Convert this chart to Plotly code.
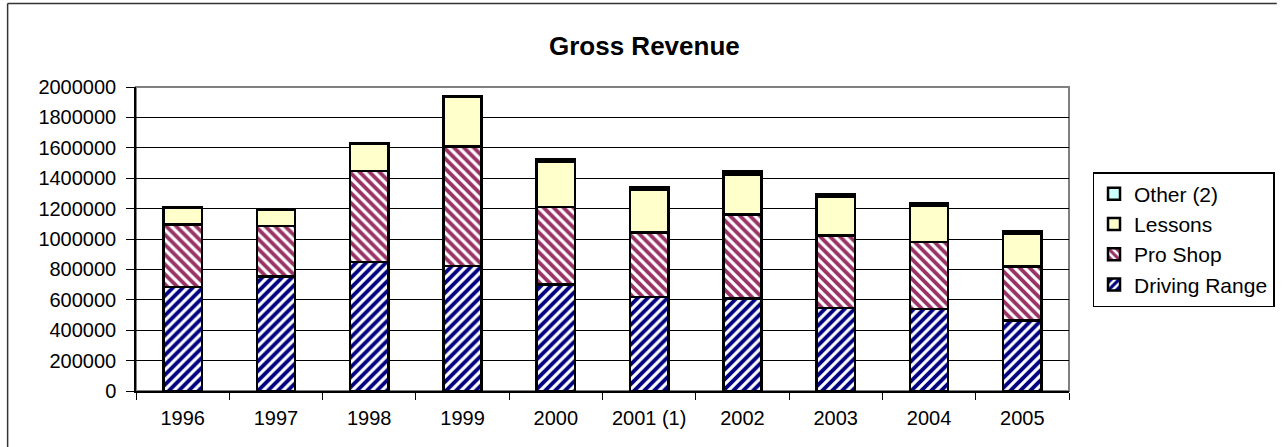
import plotly.graph_objects as go

years = ["1996", "1997", "1998", "1999", "2000", "2001 (1)", "2002", "2003", "2004", "2005"]
driving_range = [684000, 754000, 849000, 822000, 700000, 618000, 607000, 546000, 539000, 465000]
pro_shop = [412000, 331000, 598000, 788000, 511000, 424000, 553000, 478000, 441000, 355000]
lessons = [110000, 108000, 180000, 329000, 296000, 283000, 263000, 252000, 241000, 215000]
other = [0, 0, 0, 0, 17000, 13000, 20000, 18000, 16000, 15000]

FONT = "Arial, 'Liberation Sans', sans-serif"
W, H = 1287, 447
L, R, T, B = 136, 199, 87, 56
PW = W - L - R
PH = H - T - B

def px_x(px):
    return (px - L) / PW

def px_y(py):
    return (H - B - py) / PH

line = dict(color="black", width=2.5)
fig = go.Figure()
fig.add_trace(go.Bar(
    x=years, y=driving_range, name="Driving Range",
    marker=dict(color="#000080", line=line,
                pattern=dict(shape="/", fgcolor="#000080", bgcolor="white",
                             size=7, solidity=0.55, fgopacity=1)),
))
fig.add_trace(go.Bar(
    x=years, y=pro_shop, name="Pro Shop",
    marker=dict(color="#993366", line=line,
                pattern=dict(shape="\\", fgcolor="#993366", bgcolor="white",
                             size=7, solidity=0.55, fgopacity=1)),
))
fig.add_trace(go.Bar(
    x=years, y=lessons, name="Lessons",
    marker=dict(color="#FFFFCC", line=line),
))
fig.add_trace(go.Bar(
    x=years, y=other, name="Other (2)",
    marker=dict(color="#CCFFFF", line=line),
))

fig.update_layout(
    width=W, height=H,
    margin=dict(l=L, r=R, t=T, b=B, pad=0),
    barmode="stack", bargap=0.59,
    paper_bgcolor="white", plot_bgcolor="white",
    font=dict(family=FONT, size=20, color="black"),
    showlegend=True,
    legend=dict(
        x=px_x(1112), y=px_y(172), xanchor="left", yanchor="top",
        traceorder="reversed", bordercolor="black", borderwidth=1.5,
        bgcolor="white", font=dict(family=FONT, size=21, color="black"),
        itemclick=False, tracegroupgap=0,
    ),
    xaxis=dict(
        type="category", showline=True, linecolor="black", linewidth=1.5,
        ticks="outside", tickson="boundaries", ticklen=7, tickcolor="black",
        tickfont=dict(family=FONT, size=20), showgrid=False,
        ticklabelstandoff=8,
    ),
    yaxis=dict(
        range=[0, 2000000], dtick=200000, tickformat="d",
        showline=True, linecolor="black", linewidth=1.5,
        ticks="outside", ticklen=8, tickcolor="black",
        showgrid=True, gridcolor="black", gridwidth=1,
        tickfont=dict(family=FONT, size=20), zeroline=False,
        ticklabelstandoff=6,
    ),
    shapes=[
        dict(type="rect", xref="paper", yref="paper", x0=0, x1=1, y0=0, y1=1,
             line=dict(color="#808080", width=2), layer="below"),
        dict(type="line", xref="paper", yref="paper", x0=px_x(5), x1=px_x(5),
             y0=px_y(3.5), y1=px_y(460), line=dict(color="#333333", width=1.5)),
        dict(type="line", xref="paper", yref="paper", x0=px_x(5), x1=px_x(1300),
             y0=px_y(3.5), y1=px_y(3.5), line=dict(color="#333333", width=1.5)),
    ],
    annotations=[
        dict(text="<b>Gross Revenue</b>", xref="paper", yref="paper",
             x=px_x(655), y=px_y(46), xanchor="center", yanchor="middle",
             showarrow=False, font=dict(family=FONT, size=26, color="black")),
    ],
)

fig.write_html(
    "out.html",
    config={"displayModeBar": False},
    post_script="document.body.style.margin='0';document.body.style.padding='0';",
)
